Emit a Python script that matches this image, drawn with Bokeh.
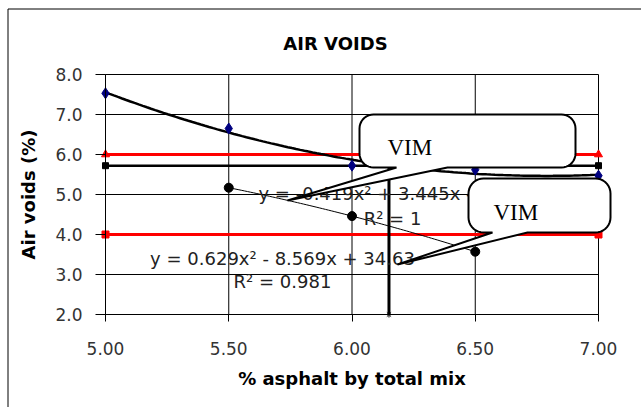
import numpy as np
from bokeh.plotting import figure
from bokeh.models import (Range1d, FixedTicker, PrintfTickFormatter, Label,
                          PolyAnnotation, BoxAnnotation)
from bokeh.core.properties import value
from bokeh.embed import file_html
from bokeh.resources import INLINE

# ---------------- data ----------------
asphalt_pct = [5.00, 5.50, 6.00, 6.50, 7.00]
air_voids = [7.53, 6.65, 5.72, 5.62, 5.47]
vim2_x = [5.50, 6.00, 6.50]
vim2_y = [5.17, 4.46, 3.57]
limit_x = [5.00, 7.00]
upper_limit = [6.0, 6.0]
lower_limit = [4.0, 4.0]
target_x = [5.00, 7.00]
target_vim = [5.72, 5.72]
design_x = [6.15, 6.15]
design_y = [2.0, 5.72]
x_ticks = [5.0, 5.5, 6.0, 6.5, 7.0]
y_ticks = [2, 3, 4, 5, 6, 7, 8]
eq1_lines = ["y = -0.419x² + 3.445x - 1.099", "R² = 1"]
eq2_lines = ["y = 0.629x² - 8.569x + 34.63", "R² = 0.981"]
chart_title = "AIR VOIDS"
x_title = "% asphalt by total mix"
y_title = "Air voids (%)"
callout_text = "VIM"

# ---------------- layout (pixels) ----------------
W, H = 641, 407
FL, FR, FT, FB = 105, 598, 74, 314          # plot area in the picture
X0, X1 = min(x_ticks), max(x_ticks)
Y0, Y1 = min(y_ticks), max(y_ticks)


def dx(px):
    return X0 + (px - FL) * (X1 - X0) / (FR - FL)


def dy(py):
    return Y1 - (py - FT) * (Y1 - Y0) / (FB - FT)


# the frame covers the whole canvas; axes are pinned at the plot-area edges
p = figure(width=W, height=H, x_range=Range1d(dx(0), dx(W)), y_range=Range1d(dy(H), dy(0)),
           output_backend="svg", toolbar_location=None, title=None,
           min_border=0, min_border_left=0, min_border_right=0,
           min_border_top=0, min_border_bottom=0)
p.background_fill_color = "white"
p.border_fill_color = "white"
p.outline_line_color = None
p.grid.visible = False

# axes
p.xaxis.fixed_location = Y0
p.yaxis.fixed_location = X0
p.xaxis.bounds = (X0, X1)
p.yaxis.bounds = (Y0, Y1)
p.xaxis.ticker = FixedTicker(ticks=x_ticks)
p.yaxis.ticker = FixedTicker(ticks=y_ticks)
p.xaxis.formatter = PrintfTickFormatter(format="%.2f")
p.yaxis.formatter = PrintfTickFormatter(format="%.1f")
for ax in (p.xaxis[0], p.yaxis[0]):
    ax.major_label_text_font = "DejaVu Sans"
    ax.major_label_text_font_size = "17px"
    ax.major_label_text_color = "#333333"
    ax.minor_tick_line_color = None
    ax.major_tick_in = 0
    ax.axis_line_color = "black"
    ax.major_tick_line_color = "black"
    ax.axis_label_text_font = "DejaVu Sans"
    ax.axis_label_text_font_style = "bold"
    ax.axis_label_text_font_size = "18px"
    ax.axis_label_text_color = "black"
p.xaxis.major_tick_out = 7
p.yaxis.major_tick_out = 10
p.xaxis.major_label_standoff = 20
p.yaxis.major_label_standoff = 13
p.xaxis.axis_label = x_title
p.yaxis.axis_label = y_title
p.xaxis.axis_label_standoff = 10
p.yaxis.axis_label_standoff = 13

# outer chart frame (only its left and top edges are inside the picture)
p.add_layout(BoxAnnotation(left=dx(7.5), right=dx(W + 30), top=dy(8.5), bottom=dy(H + 30),
                           fill_alpha=0, line_color="black", line_alpha=1, line_width=1,
                           level="underlay"))

# plot-area gridlines
p.segment(x0=x_ticks, y0=[Y0] * len(x_ticks), x1=x_ticks, y1=[Y1] * len(x_ticks),
          line_color="black", line_width=1)
p.segment(x0=[X0] * len(y_ticks), y0=y_ticks, x1=[X1] * len(y_ticks), y1=y_ticks,
          line_color="black", line_width=1)

# limit lines
p.line(limit_x, upper_limit, line_color="red", line_width=3)
p.scatter(limit_x, upper_limit, marker="triangle", size=8, color="red")
p.line(limit_x, lower_limit, line_color="red", line_width=3)
p.scatter(limit_x, lower_limit, marker="square", size=7, color="red")

# target VIM line and design asphalt content
p.line(target_x, target_vim, line_color="black", line_width=2.5)
p.scatter(target_x, target_vim, marker="square", size=6, color="black")
p.line(design_x, design_y, line_color="black", line_width=3)
p.scatter(design_x[:1], design_y[:1], marker="asterisk", size=6, color="black")

# trendlines (least squares, order 2)
xs1 = np.linspace(min(asphalt_pct), max(asphalt_pct), 120)
c1 = np.polyfit(asphalt_pct, air_voids, 2)
p.line(xs1, np.polyval(c1, xs1), line_color="black", line_width=2.5)
xs2 = np.linspace(min(vim2_x), max(vim2_x), 80)
c2 = np.polyfit(vim2_x, vim2_y, 2)
p.line(xs2, np.polyval(c2, xs2), line_color="black", line_width=1)

# series markers
p.scatter(asphalt_pct, air_voids, marker="diamond", size=11, color="#000080")
p.scatter(vim2_x, vim2_y, marker="circle", size=9, color="black")

# trendline labels
p.text(x=[dx(258)], y=[dy(193)], text=[eq1_lines[0]], text_font=value("DejaVu Sans"),
       text_font_size="18px", text_align="left", text_baseline="middle", text_color="#222222")
p.text(x=[dx(392)], y=[dy(218)], text=[eq1_lines[1]], text_font=value("DejaVu Sans"),
       text_font_size="18px", text_align="center", text_baseline="middle", text_color="#222222")
p.text(x=[dx(282), dx(282)], y=[dy(258), dy(281)], text=eq2_lines, text_font=value("DejaVu Sans"),
       text_font_size="18px", text_align="center", text_baseline="middle", text_color="#222222")


# callouts
def callout(x0, y0, x1, y1, r, bl, br, tip):
    pts = []

    def arc(cx, cy, a0, a1):
        for a in np.linspace(a0, a1, 10):
            pts.append((cx + r * np.cos(a), cy + r * np.sin(a)))
    # screen coords, y down; clockwise
    arc(x1 - r, y0 + r, -np.pi / 2, 0)
    arc(x1 - r, y1 - r, 0, np.pi / 2)
    pts.append((br, y1))
    pts.append(tip)
    pts.append((bl, y1))
    arc(x0 + r, y1 - r, np.pi / 2, np.pi)
    arc(x0 + r, y0 + r, np.pi, 1.5 * np.pi)
    xs = [dx(a) for a, b in pts]
    ys = [dy(b) for a, b in pts]
    return PolyAnnotation(xs=xs, ys=ys, fill_color="white", fill_alpha=1,
                          line_color="black", line_alpha=1, line_width=2)


p.add_layout(callout(359, 114, 575, 167, 14, 396, 447, (287, 200)))
p.add_layout(callout(468, 178, 610, 232, 15, 492, 527, (397, 264)))
for lx, ly in [(387, 147), (493, 212)]:
    p.add_layout(Label(x=dx(lx), y=dy(ly), text=callout_text, text_font="Liberation Serif",
                       text_font_size="23px", text_color="black", text_align="left",
                       text_baseline="alphabetic"))

# chart title
p.add_layout(Label(x=dx(335), y=dy(43), text=chart_title, text_font="DejaVu Sans",
                   text_font_style="bold", text_font_size="18px", text_color="black",
                   text_align="center", text_baseline="middle"))

open("out.html", "w").write(file_html(p, INLINE))
